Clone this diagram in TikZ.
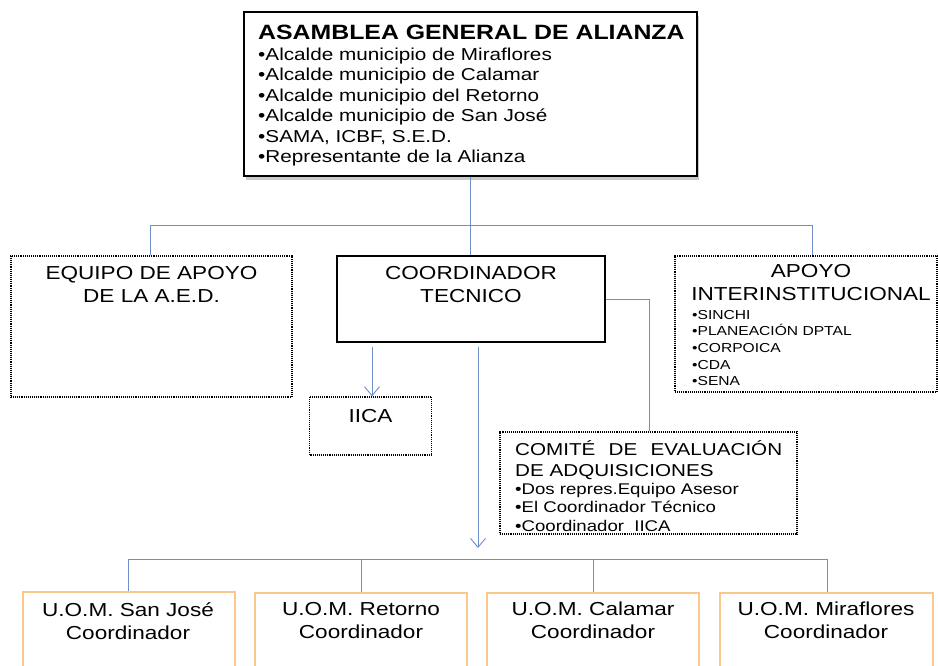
\documentclass[tikz,border=0pt]{standalone}
\usepackage{fontspec}
\setmainfont{Liberation Sans}[FakeStretch=1.2]
\usetikzlibrary{arrows.meta,shadows}
\definecolor{conn}{HTML}{6F8FC9}
\definecolor{uomc}{HTML}{F8C98A}
\newcommand{\fs}[2]{\fontsize{#1pt}{#2pt}\selectfont}
\begin{document}
\begin{tikzpicture}[x=1pt,y=-1pt,
  solidbox/.style={draw=black,line width=1.3pt,fill=white},
  dotbox/.style={draw=black,line width=1.2pt,dash pattern=on 1pt off 0.9pt,fill=white},
  uombox/.style={draw=uomc,line width=1.6pt,fill=white},
  conline/.style={draw=conn,line width=0.9pt},
  arr/.style={conline,-{Straight Barb[length=9pt,width=15pt,line width=0.9pt]}},
  txt/.style={inner sep=0pt,text=black},
  headtxt/.style={txt,font=\fs{18.8}{23}},
]
\useasboundingbox (0,0) rectangle (938,665);
\clip (0,0) rectangle (938,665);

% ---- boxes (as nodes) ----
\node[draw=black,line width=2pt,fill=white,
  drop shadow={shadow xshift=2pt,shadow yshift=-4pt,opacity=0.35,fill=black!60},
  minimum width=453pt,minimum height=164pt,inner sep=0pt] (top) at (470.5,94) {};
\node[dotbox,minimum width=281pt,minimum height=141pt,inner sep=0pt] (equipo) at (151.5,326.5) {};
\node[solidbox,minimum width=268pt,minimum height=86pt,inner sep=0pt] (coord) at (471,299) {};
\node[dotbox,minimum width=262pt,minimum height=136pt,inner sep=0pt] (apoyo) at (806,324) {};
\node[dotbox,minimum width=122pt,minimum height=58pt,inner sep=0pt] (iica) at (370.5,426) {};
\node[dotbox,minimum width=297pt,minimum height=102pt,inner sep=0pt] (comite) at (648.5,483) {};
\node[uombox,minimum width=212pt,minimum height=90pt,inner sep=0pt] (uom1) at (129,637) {};
\node[uombox,minimum width=212pt,minimum height=90pt,inner sep=0pt] (uom2) at (361,638) {};
\node[uombox,minimum width=212pt,minimum height=90pt,inner sep=0pt] (uom3) at (593,638) {};
\node[uombox,minimum width=213pt,minimum height=90pt,inner sep=0pt] (uom4) at (826.5,638) {};

% ---- texts ----
\node[txt,anchor=north west,font=\bfseries\fs{20.7}{24}] (toptitle) at (258,24.5) {ASAMBLEA GENERAL DE ALIANZA};
\node[txt,anchor=north west,align=left,font=\fs{17.25}{20.5}] (topbody) at (258,47.5)
  {•Alcalde municipio de Miraflores\\
   •Alcalde municipio de Calamar\\
   •Alcalde municipio del Retorno\\
   •Alcalde municipio de San José\\
   •SAMA, ICBF, S.E.D.\\
   •Representante de la Alianza};

\node[headtxt,anchor=north,align=center] (equipotxt) at (151.5,266) {EQUIPO DE APOYO\\DE LA A.E.D.};
\node[headtxt,anchor=north,align=center] (coordtxt) at (471,266) {COORDINADOR\\TECNICO};
\node[headtxt,anchor=north,align=center] (apoyotxt) at (811,264) {APOYO\\INTERINSTITUCIONAL};
\node[txt,anchor=north west,align=left,font=\fs{13}{16.6}] (apoyobody) at (692,310)
  {•SINCHI\\•PLANEACIÓN DPTAL\\•CORPOICA\\•CDA\\•SENA};
\node[headtxt,anchor=north] (iicatxt) at (370.5,409) {IICA};
\node[txt,anchor=north west,align=left,font=\fs{17.2}{21}] (comitetitle) at (515,440)
  {\makebox[267pt][s]{COMITÉ DE EVALUACIÓN}\\DE ADQUISICIONES};
\node[txt,anchor=north west,align=left,font=\fs{15.5}{18.5}] (comitebody) at (515,483)
  {•Dos repres.Equipo Asesor\\•El Coordinador Técnico\\•Coordinador\ \ IICA};

\node[headtxt,anchor=north,align=center] (uom1txt) at (128,602) {U.O.M. San José\\Coordinador};
\node[headtxt,anchor=north,align=center] (uom2txt) at (361,602) {U.O.M. Retorno\\Coordinador};
\node[headtxt,anchor=north,align=center] (uom3txt) at (593,602) {U.O.M. Calamar\\Coordinador};
\node[headtxt,anchor=north,align=center] (uom4txt) at (826,602) {U.O.M. Miraflores\\Coordinador};

% ---- connectors ----
\coordinate (h1) at (470,225);
\coordinate (hL) at (150,225);
\coordinate (hR) at (812,225);
\draw[conline] (top.south -| h1) -- (h1);
\draw[conline] (equipo.north -| hL) -- (hL) -- (hR) -- (apoyo.north -| hR);
\draw[conline] (coord.north -| h1) -- (h1);

\coordinate (cm) at (649,299);
\draw[conline] (coord.east |- cm) -- (cm) -- (comite.north -| cm);

\coordinate (a1s) at (372,347);
\draw[arr] (a1s) -- (iica.north -| a1s);

\coordinate (a2s) at (478,347);
\coordinate (a2e) at (478,548);
\draw[arr] (a2s) -- (a2e);

\coordinate (b1) at (128,559);
\coordinate (b2) at (361,559);
\coordinate (b3) at (593,559);
\coordinate (b4) at (827,559);
\draw[conline] (uom1.north -| b1) -- (b1) -- (b4) -- (uom4.north -| b4);
\draw[conline] (uom2.north -| b2) -- (b2);
\draw[conline] (uom3.north -| b3) -- (b3);
\end{tikzpicture}
\end{document}
